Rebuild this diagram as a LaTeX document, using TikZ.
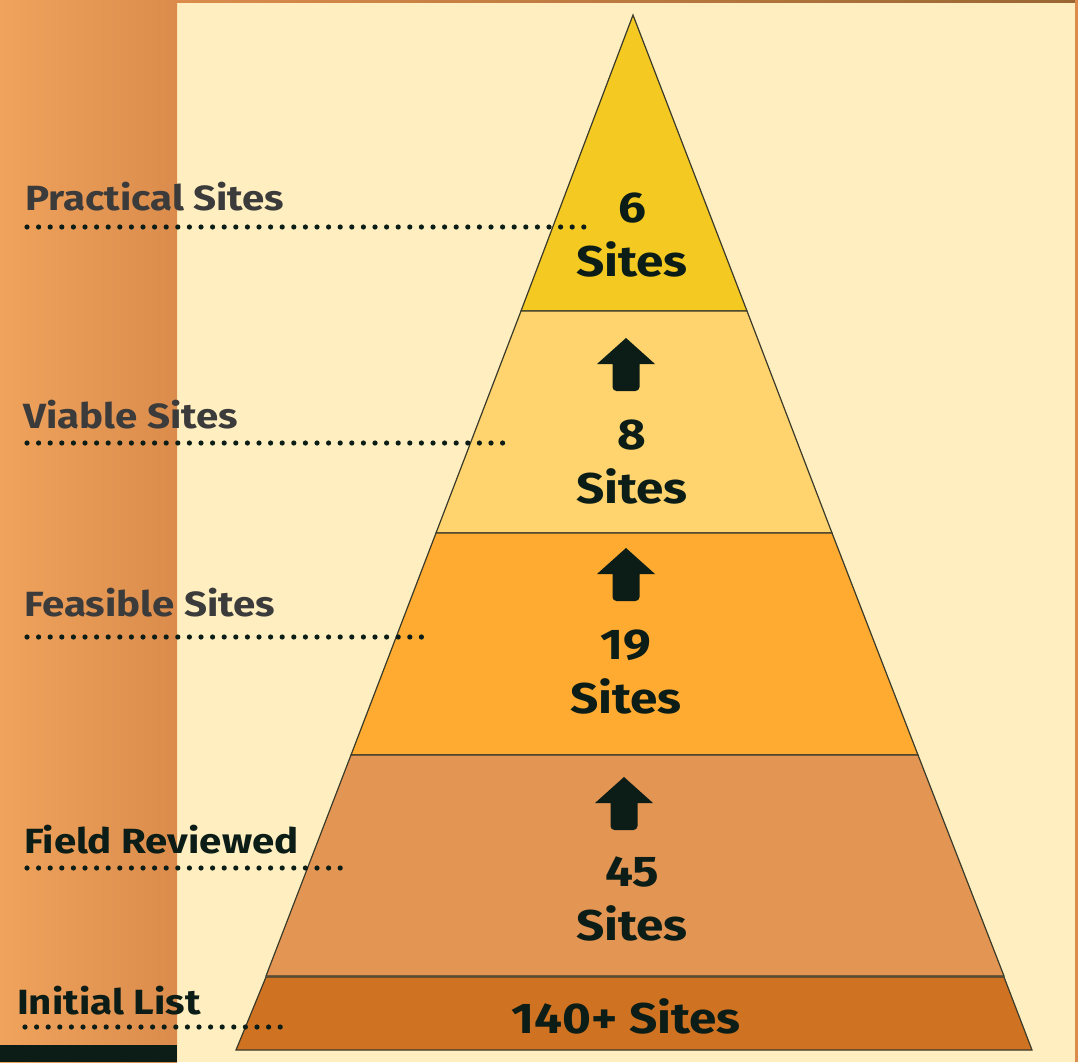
\documentclass[tikz,border=0pt]{standalone}
\usepackage{fontspec}
\setmainfont{Fira Sans}
\newfontfamily\widesans[FakeStretch=1.15]{Fira Sans}
\definecolor{cream}{HTML}{FFEFC0}
\definecolor{bandL}{HTML}{EFA35C}
\definecolor{bandR}{HTML}{DB8C4C}
\definecolor{darkink}{HTML}{0B1D16}
\definecolor{grayink}{HTML}{3B3B3B}
\definecolor{lvA}{HTML}{F4C922}
\definecolor{lvB}{HTML}{FFD46E}
\definecolor{lvC}{HTML}{FFAA30}
\definecolor{lvD}{HTML}{E39554}
\definecolor{lvE}{HTML}{CF7322}
\definecolor{edge}{HTML}{3A3A2A}
\begin{document}
\begin{tikzpicture}[x=1pt,y=-1pt,
  tier/.style={draw=edge,line width=1.2pt,line join=miter},
  sidelabel/.style={anchor=base west,inner sep=0pt,font=\widesans\fontsize{35}{40}\selectfont\bfseries},
  numlabel/.style={align=center,inner sep=0pt,text=darkink,font=\widesans\fontsize{43}{54}\selectfont\bfseries},
  leader/.style={draw=darkink,line width=5.2pt,line cap=round,dash pattern=on 0pt off 11.6pt},
  pics/uparrow/.style={code={
    \fill[darkink] (0,0) -- (29,26) -- (13.5,26) [rounded corners=4pt] -- (13.5,53) -- (-13.5,53) [sharp corners] -- (-13.5,26) -- (-29,26) -- cycle;}}]
\useasboundingbox (0,0) rectangle (1078,1062);
% backgrounds
\fill[cream] (0,0) rectangle (1078,1062);
\shade[left color=bandL,right color=bandR] (0,0) rectangle (177,1062);
\fill[darkink] (0,1045) rectangle (177,1062);
\shade[left color=bandR,right color=brown!80!black] (177,0) rectangle (1078,3);
\fill[bandR] (1075,0) rectangle (1078,1062);
% pyramid tiers
\filldraw[tier,fill=lvA] (633,15) -- (747,311) -- (521,311) -- cycle;
\filldraw[tier,fill=lvB] (521,311) -- (747,311) -- (832,533) -- (436,533) -- cycle;
\filldraw[tier,fill=lvC] (436,533) -- (832,533) -- (918,755) -- (351,755) -- cycle;
\filldraw[tier,fill=lvD] (351,755) -- (918,755) -- (1004,976) -- (266,976) -- cycle;
\filldraw[tier,fill=lvE] (266,977) -- (1004,977) -- (1032,1050) -- (236,1050) -- cycle;
% arrows
\pic at (626,338) {uparrow};
\pic at (626,548) {uparrow};
\pic at (624,777) {uparrow};
% tier texts
\node[numlabel] (nA) at (632,235) {6\\Sites};
\node[numlabel] (nB) at (632,462) {8\\Sites};
\node[numlabel] (nC) at (626,672) {19\\Sites};
\node[numlabel] (nD) at (632,899) {45\\Sites};
\node[numlabel,anchor=center] (nE) at (626,1016) {140+ Sites};
% side labels
\node[sidelabel,text=grayink] (lA) at (25,210) {Practical Sites};
\node[sidelabel,text=grayink] (lB) at (23,428) {Viable Sites};
\node[sidelabel,text=grayink] (lC) at (24,616) {Feasible Sites};
\node[sidelabel,text=darkink] (lD) at (24,853) {Field Reviewed};
\node[sidelabel,text=darkink] (lE) at (17,1014) {Initial List};
% leader lines
\coordinate (eA) at (584.5,227);
\coordinate (eB) at (503,443);
\coordinate (eC) at (422,637);
\coordinate (eD) at (340.8,868);
\coordinate (eE) at (280.8,1027);
\draw[leader] (27,227) -- (eA);
\draw[leader] (27,443) -- (eB);
\draw[leader] (27,637) -- (eC);
\draw[leader] (27,868) -- (eD);
\draw[leader] (25,1027) -- (eE);
\end{tikzpicture}
\end{document}
